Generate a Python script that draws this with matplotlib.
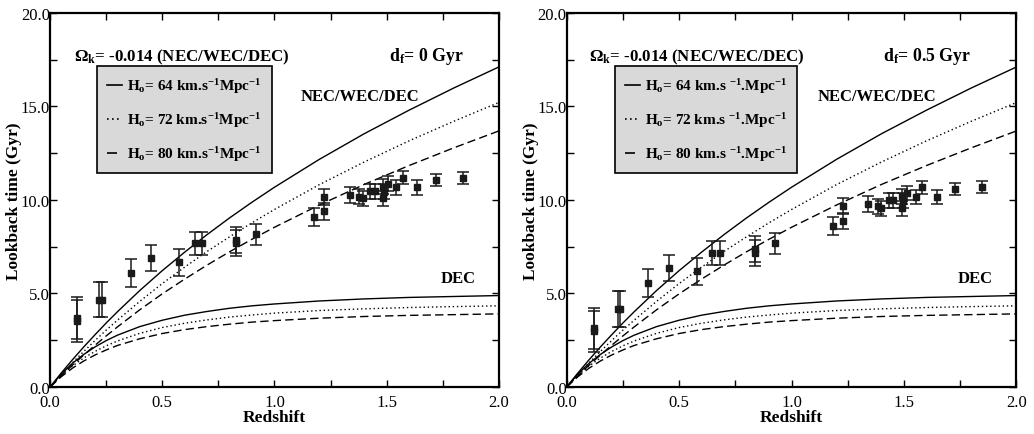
# -*- coding: utf-8 -*-

import matplotlib
matplotlib.use('Agg')
import matplotlib.pyplot as plt
from matplotlib.lines import Line2D
from matplotlib.ticker import MultipleLocator, FormatStrFormatter

# model curves, same in both panels
z_model = [0.0, 0.05, 0.1, 0.15, 0.2, 0.25, 0.3, 0.4, 0.5, 0.6, 0.7, 0.8,
           0.9, 1.0, 1.2, 1.4, 1.6, 1.8, 2.0]
nec_64 = [0.0, 0.75, 1.46, 2.14, 2.79, 3.42, 4.02, 5.16, 6.22, 7.21, 8.15,
          9.04, 9.88, 10.68, 12.17, 13.54, 14.80, 15.99, 17.11]
nec_72 = [0.0, 0.66, 1.30, 1.90, 2.48, 3.04, 3.57, 4.58, 5.53, 6.41, 7.25,
          8.03, 8.78, 9.49, 10.82, 12.03, 13.16, 14.21, 15.21]
nec_80 = [0.0, 0.60, 1.17, 1.71, 2.23, 2.73, 3.21, 4.13, 4.98, 5.77, 6.52,
          7.23, 7.90, 8.54, 9.73, 10.83, 11.84, 12.79, 13.69]
dec_64 = [0.0, 0.69, 1.27, 1.74, 2.14, 2.48, 2.77, 3.23, 3.57, 3.84, 4.04,
          4.21, 4.34, 4.44, 4.60, 4.71, 4.79, 4.84, 4.89]
dec_72 = [0.0, 0.62, 1.13, 1.55, 1.90, 2.20, 2.46, 2.87, 3.18, 3.41, 3.59,
          3.74, 3.85, 3.95, 4.09, 4.18, 4.25, 4.30, 4.34]
dec_80 = [0.0, 0.55, 1.01, 1.39, 1.71, 1.98, 2.22, 2.58, 2.86, 3.07, 3.23,
          3.36, 3.47, 3.55, 3.68, 3.77, 3.83, 3.87, 3.91]

# galaxy ages, d_f = 0 Gyr
z_left = [0.12, 0.12, 0.22, 0.23, 0.36, 0.45, 0.575, 0.645, 0.676, 0.83,
          0.83, 0.92, 1.176, 1.22, 1.22, 1.335, 1.377, 1.393, 1.428, 1.447,
          1.484, 1.488, 1.486, 1.504, 1.544, 1.571, 1.637, 1.72, 1.841]
t_left = [3.69, 3.53, 4.67, 4.67, 6.1, 6.9, 6.68, 7.68, 7.68, 7.7, 7.85,
          8.16, 9.07, 10.14, 9.4, 10.27, 10.17, 10.08, 10.46, 10.46, 10.71,
          10.45, 10.09, 10.88, 10.67, 11.18, 10.67, 11.07, 11.18]

# galaxy ages, d_f = 0.5 Gyr
z_right = [0.12, 0.12, 0.228, 0.238, 0.361, 0.455, 0.578, 0.648, 0.68, 0.836,
           0.836, 0.926, 1.184, 1.228, 1.228, 1.342, 1.384, 1.398, 1.433,
           1.45, 1.49, 1.495, 1.492, 1.514, 1.554, 1.579, 1.646, 1.727, 1.847]
t_right = [3.14, 2.99, 4.17, 4.17, 5.56, 6.36, 6.19, 7.17, 7.17, 7.17, 7.38,
           7.68, 8.59, 9.66, 8.88, 9.77, 9.66, 9.55, 9.98, 9.98, 10.2, 9.96,
           9.55, 10.37, 10.16, 10.68, 10.16, 10.57, 10.68]

t_err = [1.1, 1.1, 0.95, 0.95, 0.75, 0.7, 0.72, 0.62, 0.62, 0.7, 0.7, 0.58,
         0.48, 0.42, 0.45, 0.42, 0.4, 0.4, 0.4, 0.4, 0.4, 0.4, 0.4, 0.38,
         0.38, 0.35, 0.38, 0.33, 0.33]

h0_values = [64, 72, 80]
delays = ['0', '0.5']

plt.rcParams['font.family'] = ['Liberation Serif', 'DejaVu Serif']
plt.rcParams['mathtext.fontset'] = 'custom'
plt.rcParams['mathtext.rm'] = 'Liberation Serif'
plt.rcParams['mathtext.bf'] = 'Liberation Serif:bold'
plt.rcParams['mathtext.it'] = 'Liberation Serif:italic'
plt.rcParams['mathtext.default'] = 'bf'

styles = ['-', (0, (1, 2)), (0, (6, 3))]


def setup_axes(ax):
    ax.set_xlim(0, 2.0)
    ax.set_ylim(0, 20.0)
    ax.xaxis.set_major_locator(MultipleLocator(0.5))
    ax.xaxis.set_minor_locator(MultipleLocator(0.25))
    ax.yaxis.set_major_locator(MultipleLocator(5))
    ax.yaxis.set_minor_locator(MultipleLocator(2.5))
    ax.xaxis.set_major_formatter(FormatStrFormatter('%.1f'))
    ax.yaxis.set_major_formatter(FormatStrFormatter('%.1f'))
    ax.tick_params(which='both', direction='in', top=True, right=True,
                   length=5, width=1)
    ax.tick_params(axis='x', labelsize=12, pad=5)
    ax.tick_params(axis='y', labelsize=12, pad=0)
    for s in ax.spines.values():
        s.set_linewidth(1.6)
    ax.set_xlabel('Redshift', fontsize=12.5, fontweight='bold')
    ax.set_ylabel('Lookback time (Gyr)', fontsize=12.5, fontweight='bold')
    ax.xaxis.set_label_coords(0.5, -0.058)
    ax.yaxis.set_label_coords(-0.062, 0.5)


def draw_panel(ax, z_obs, t_obs, delay, right):
    setup_axes(ax)
    for curve, ls in zip([nec_64, nec_72, nec_80], styles):
        ax.plot(z_model, curve, color='black', lw=1, linestyle=ls)
    for curve, ls in zip([dec_64, dec_72, dec_80], styles):
        ax.plot(z_model, curve, color='black', lw=1, linestyle=ls)

    ax.errorbar(z_obs, t_obs, yerr=t_err, fmt='s', color='#1a1a1a',
                ms=5, capsize=4, elinewidth=1.1, capthick=1.1)

    ax.text(0.098 if right else 0.107, 17.7,
            'Ω$_k$= -0.014 (NEC/WEC/DEC)', fontsize=12.2,
            fontweight='bold', va='center')
    ax.text(1.406 if right else 1.51, 17.7, 'd$_f$= %s Gyr' % delay,
            fontsize=12.8, fontweight='bold', va='center')
    ax.text(1.115, 15.55, 'NEC/WEC/DEC', fontsize=12, fontweight='bold',
            va='center')
    ax.text(1.74, 5.85, 'DEC', fontsize=12, fontweight='bold', va='center')

    # legend: gray box, one entry per Hubble constant
    handles = []
    labels = []
    for h0, ls in zip(h0_values, styles):
        handles.append(Line2D([], [], color='black', lw=1.2, linestyle=ls))
        if right:
            labels.append('H$_o$= %d km.s $^{-1}$.Mpc$^{-1}$' % h0)
        else:
            labels.append('H$_o$= %d km.s$^{-1}$Mpc$^{-1}$' % h0)
    leg = ax.legend(handles, labels, loc='upper left',
                    bbox_to_anchor=(0.107 if right else 0.105, 0.858),
                    borderaxespad=0, frameon=True, fancybox=False,
                    facecolor='#d9d9d9', edgecolor='black', framealpha=1,
                    handlelength=1.0, handletextpad=0.3,
                    labelspacing=1.0, borderpad=0.65,
                    prop={'size': 11, 'weight': 'bold'})
    leg.get_frame().set_linewidth(1.2)


def draw_figure():
    fig = plt.figure(figsize=(10.34, 4.35), dpi=100)
    ax1 = fig.add_axes([0.0484, 0.108, 0.434, 0.86])
    ax2 = fig.add_axes([0.548, 0.108, 0.435, 0.86])
    draw_panel(ax1, z_left, t_left, delays[0], False)
    draw_panel(ax2, z_right, t_right, delays[1], True)
    fig.savefig('out.png', dpi=100)


if __name__ == '__main__':
    draw_figure()
